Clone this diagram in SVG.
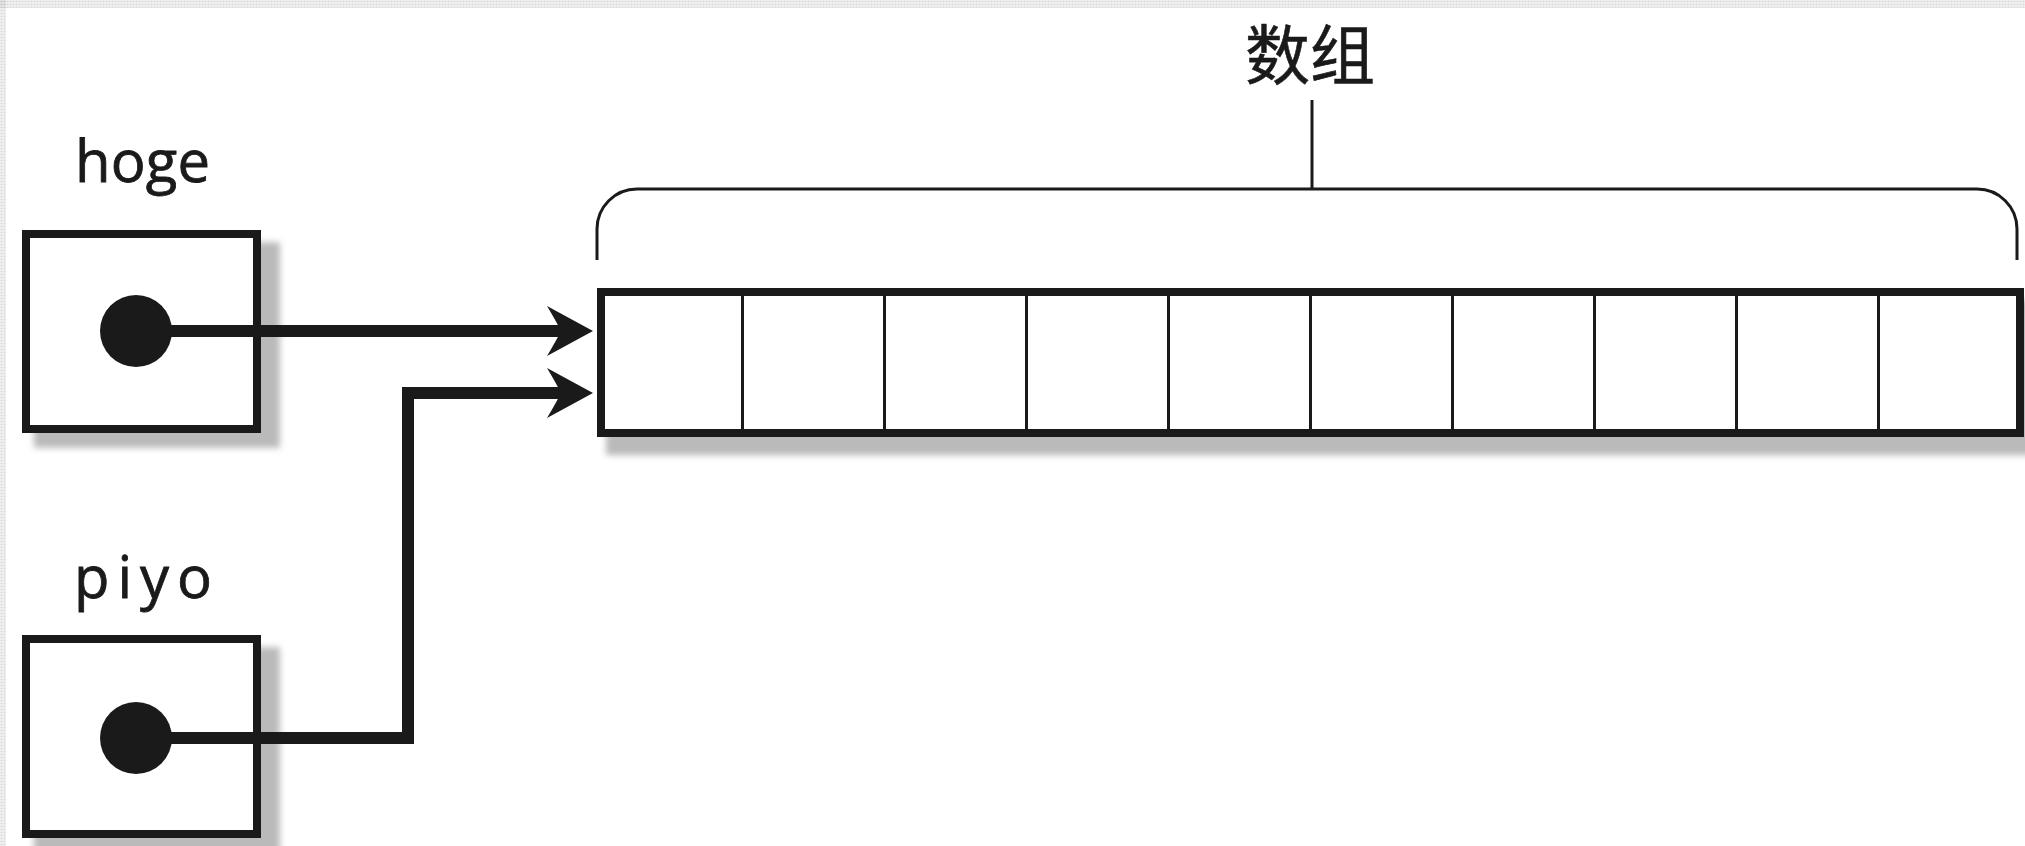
<svg xmlns="http://www.w3.org/2000/svg" width="2025" height="846" viewBox="0 0 2025 846">
  <style>
    .box { fill: #fff; stroke: #1a1a1a; stroke-width: 8; }
    .dot { fill: #1a1a1a; }
    .shadow { fill: url(#ht); filter: url(#soft); }
    .cell { stroke: #1a1a1a; stroke-width: 3; }
    .lbl { font-family: "Open Sans", "DejaVu Sans", sans-serif; font-size: 58px; fill: #1a1a1a; stroke: #1a1a1a; stroke-width: 0.8; }
    .title { font-family: "Noto Sans CJK SC", sans-serif; font-size: 65px; fill: #1a1a1a; stroke: #1a1a1a; stroke-width: 0.6; }
    .conn { fill: none; stroke: #1a1a1a; stroke-width: 12; stroke-linejoin: miter; marker-end: url(#arrow); }
    .brace { fill: none; stroke: #1a1a1a; stroke-width: 3; }
  </style>
  <defs>
    <pattern id="ht" width="3" height="3" patternUnits="userSpaceOnUse">
      <rect width="3" height="3" fill="#d4d4d4"/>
      <circle cx="1.5" cy="1.5" r="1.1" fill="#8a8a8a"/>
    </pattern>
    <filter id="soft" x="-5%" y="-5%" width="110%" height="110%">
      <feGaussianBlur stdDeviation="3"/>
    </filter>
    <marker id="arrow" viewBox="0 0 46 50" refX="23" refY="25" markerWidth="46" markerHeight="50" markerUnits="userSpaceOnUse" orient="auto">
      <path d="M46,25 L0,0 Q9,15 14,25 Q9,35 0,50 Z" fill="#1a1a1a"/>
    </marker>
  </defs>
  <rect width="2025" height="846" fill="#fff"/>
  <rect x="0" y="0" width="2025" height="8" fill="url(#ht)" opacity="0.3"/>
  <rect x="0" y="0" width="6" height="846" fill="url(#ht)" opacity="0.3"/>

  <g id="hoge">
    <text class="lbl" x="75" y="182" textLength="135" lengthAdjust="spacing">hoge</text>
    <rect class="shadow" x="34" y="242" width="246" height="206"/>
    <rect class="box" x="26" y="234" width="231" height="195"/>
    <circle class="dot" cx="136" cy="331" r="36"/>
  </g>

  <g id="piyo">
    <text class="lbl" x="74" y="598" textLength="138" lengthAdjust="spacing">piyo</text>
    <rect class="shadow" x="34" y="647" width="246" height="206"/>
    <rect class="box" x="26" y="639" width="231" height="195"/>
    <circle class="dot" cx="136" cy="738" r="36"/>
  </g>

  <g id="array">
    <rect class="shadow" x="606" y="300" width="1430" height="155"/>
    <rect class="box" x="601" y="292" width="1419" height="141"/>
    <line class="cell" x1="742.5" y1="292" x2="742.5" y2="433"/>
    <line class="cell" x1="884.5" y1="292" x2="884.5" y2="433"/>
    <line class="cell" x1="1026.5" y1="292" x2="1026.5" y2="433"/>
    <line class="cell" x1="1168.5" y1="292" x2="1168.5" y2="433"/>
    <line class="cell" x1="1310.5" y1="292" x2="1310.5" y2="433"/>
    <line class="cell" x1="1452.5" y1="292" x2="1452.5" y2="433"/>
    <line class="cell" x1="1594.5" y1="292" x2="1594.5" y2="433"/>
    <line class="cell" x1="1736.5" y1="292" x2="1736.5" y2="433"/>
    <line class="cell" x1="1878.5" y1="292" x2="1878.5" y2="433"/>
  </g>

  <g id="array-label">
    <text class="title" x="1310" y="79" text-anchor="middle">数组</text>
    <path class="brace" d="M597,260 V229 A40,40 0 0 1 637,189 H1977 A40,40 0 0 1 2017,229 V260"/>
    <line class="brace" x1="1312" y1="100" x2="1312" y2="189"/>
  </g>

  <g id="connectors">
    <path class="conn" d="M136,331 H570"/>
    <path class="conn" d="M136,738 H408 V393 H570"/>
  </g>
</svg>
